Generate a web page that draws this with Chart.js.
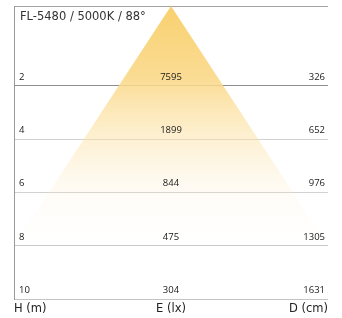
<!DOCTYPE html>
<html>
<head>
<meta charset="utf-8">
<script src="https://cdn.jsdelivr.net/npm/chart.js@4"></script>
<style>
  html, body { margin: 0; padding: 0; background: #fff; }
  #wrap { width: 342px; height: 318px; }
</style>
</head>
<body>
<div id="wrap"><canvas id="c" width="342" height="318"></canvas></div>
<script>
// data
const title = "FL-5480 / 5000K / 88°";
const heights = [2, 4, 6, 8, 10];            // H (m)
const lux = [7595, 1899, 844, 475, 304];     // E (lx)
const diameters = [326, 652, 976, 1305, 1631]; // D (cm)
const axisLabels = ["H (m)", "E (lx)", "D (cm)"];
const beamApex = -1;   // top of the beam cone
const beamBase = 8;    // where the cone fades out

const lineColors = { "-1": "#a3a3a3", "2": "#8e8e8e", "4": "#d2d2d2", "6": "#d2d2d2", "8": "#c9c9c9", "10": "#c4c4c4" };

// draws the row values and the title inside the box
const rowText = {
  id: 'rowText',
  afterDatasetsDraw(chart) {
    const { ctx, scales: { x, y }, chartArea } = chart;
    ctx.save();
    ctx.fillStyle = '#1a1a1a';
    ctx.textBaseline = 'alphabetic';
    ctx.font = '9.5px "Open Sans"';
    heights.forEach((h, i) => {
      const py = y.getPixelForValue(h) - 6;
      ctx.textAlign = 'left';
      ctx.fillText(String(h), chartArea.left + 5, py);
      ctx.textAlign = 'center';
      ctx.fillText(String(lux[i]), x.getPixelForValue(0), py);
      ctx.textAlign = 'right';
      ctx.fillText(String(diameters[i]), chartArea.right - 3, py);
    });
    ctx.font = '11.5px "DejaVu Sans"';
    ctx.textAlign = 'left';
    ctx.fillStyle = '#333';
    ctx.fillText(title, chartArea.left + 6, chartArea.top + 14);
    ctx.restore();
  }
};

const ctx = document.getElementById('c').getContext('2d');
new Chart(ctx, {
  type: 'line',
  data: {
    datasets: [{
      data: [{ x: -1, y: beamBase }, { x: 0, y: beamApex }, { x: 1, y: beamBase }],
      borderWidth: 0,
      pointRadius: 0,
      tension: 0,
      fill: { value: beamBase },
      backgroundColor(context) {
        const { chart } = context;
        const { chartArea, scales } = chart;
        if (!chartArea) return 'rgba(249,212,122,1)';
        const g = chart.ctx.createLinearGradient(0, scales.y.getPixelForValue(beamApex), 0, scales.y.getPixelForValue(beamBase));
        g.addColorStop(0, 'rgba(248,208,110,1)');
        g.addColorStop(0.3, 'rgba(250,216,136,0.9)');
        g.addColorStop(0.55, 'rgba(252,226,165,0.5)');
        g.addColorStop(0.8, 'rgba(253,234,195,0.13)');
        g.addColorStop(1, 'rgba(255,240,215,0)');
        return g;
      }
    }]
  },
  options: {
    responsive: false,
    animation: false,
    events: [],
    layout: { padding: { left: 14, right: 14, top: 6, bottom: 0 } },
    plugins: { legend: { display: false }, tooltip: { enabled: false }, title: { display: false } },
    scales: {
      x: {
        type: 'linear',
        min: -1,
        max: 1,
        grid: { display: false, drawTicks: false },
        border: { display: false },
        afterBuildTicks(scale) { scale.ticks = [{ value: -1 }, { value: 0 }, { value: 1 }]; },
        afterFit(scale) { scale.height = 19; },
        ticks: {
          align: 'inner',
          padding: 3,
          color: '#222',
          font: { family: 'DejaVu Sans', size: 11.5 },
          callback: (v, i) => axisLabels[i]
        }
      },
      y: {
        type: 'linear',
        reverse: true,
        min: beamApex,
        max: 10,
        afterBuildTicks(scale) { scale.ticks = [beamApex].concat(heights).map(v => ({ value: v })); },
        afterFit(scale) { scale.width = 0; },
        ticks: { display: false },
        border: { display: true, color: '#9a9a9a', width: 1 },
        grid: {
          drawTicks: false,
          lineWidth: 1,
          color: (c) => lineColors[String(c.tick.value)] || '#ccc'
        }
      }
    }
  },
  plugins: [rowText]
});
</script>
</body>
</html>
